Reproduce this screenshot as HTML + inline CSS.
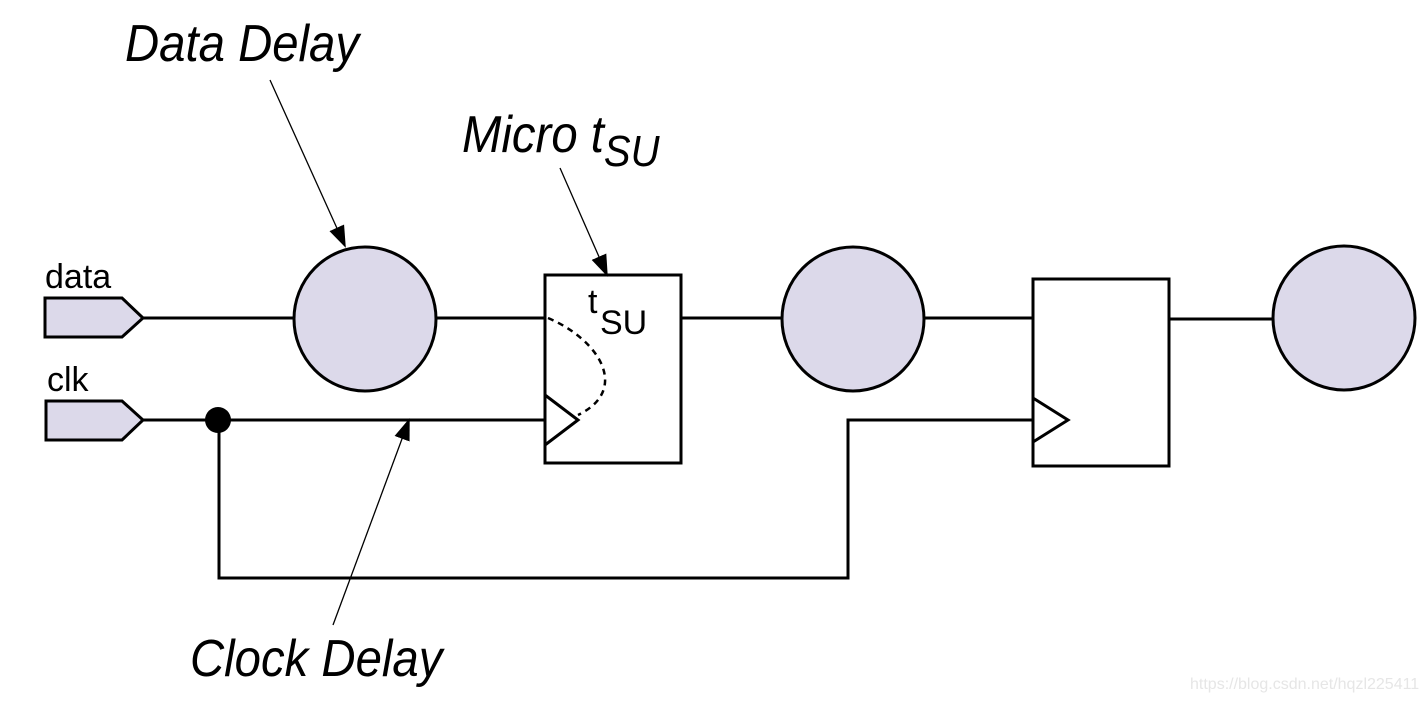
<!DOCTYPE html>
<html><head><meta charset="utf-8"><style>
html,body{margin:0;padding:0;background:#fff;}
svg{display:block;}
.lbl{font-family:"Liberation Sans",sans-serif;font-style:italic;font-size:52px;fill:#000;}
.sm{font-family:"Liberation Sans",sans-serif;font-size:34px;fill:#000;}
</style></head><body>
<svg width="1426" height="701" viewBox="0 0 1426 701" xmlns="http://www.w3.org/2000/svg">
<defs>
<marker id="ahb" markerWidth="22" markerHeight="22" refX="20" refY="11" orient="auto" markerUnits="userSpaceOnUse">
<path d="M0,3 L22,11 L0,19 z" fill="#000"/>
</marker>
</defs>
<g stroke="#000" stroke-width="3" fill="none">
<path d="M45,298 L122,298 L143,318 L122,337 L45,337 Z" fill="#dcd9ea"/>
<path d="M46,401 L122,401 L143,420 L122,440 L46,440 Z" fill="#dcd9ea"/>
<line x1="143" y1="318" x2="294" y2="318"/>
<line x1="437" y1="318" x2="545" y2="318"/>
<line x1="143" y1="420" x2="545" y2="420"/>
<line x1="681" y1="318" x2="782" y2="318"/>
<line x1="925" y1="318" x2="1033" y2="318"/>
<line x1="1169" y1="319" x2="1273" y2="319"/>
<polyline points="219,420 219,578 848,578 848,420 1033,420"/>
<ellipse cx="365" cy="319" rx="71" ry="72" fill="#dcd9ea"/>
<ellipse cx="853" cy="319" rx="71" ry="72" fill="#dcd9ea"/>
<ellipse cx="1344" cy="318" rx="71" ry="72" fill="#dcd9ea"/>
<rect x="545" y="275" width="136" height="188" fill="#fff"/>
<rect x="1033" y="279" width="136" height="187" fill="#fff"/>
<polyline points="545,395 578,420 545,445"/>
<polyline points="1033,398 1068,420 1033,442"/>
<path d="M548,318 C600,340 630,390 578,415" stroke-dasharray="6,5" stroke-width="2.5"/>
</g>
<circle cx="218" cy="420" r="13" fill="#000"/>
<g stroke="#000" stroke-width="1.3" fill="none">
<line x1="270" y1="80" x2="345" y2="246" marker-end="url(#ahb)"/>
<line x1="560" y1="168" x2="607" y2="275" marker-end="url(#ahb)"/>
<line x1="333" y1="625" x2="409" y2="420" marker-end="url(#ahb)"/>
</g>
<text class="lbl" x="125" y="61" transform="translate(125,0) scale(0.91,1) translate(-125,0)">Data Delay</text>
<text class="lbl" x="462" y="152" transform="translate(462,0) scale(0.91,1) translate(-462,0)">Micro t<tspan font-size="44" dy="14">SU</tspan></text>
<text class="lbl" x="190" y="676" transform="translate(190,0) scale(0.91,1) translate(-190,0)">Clock Delay</text>
<text class="sm" x="45" y="288">data</text>
<text class="sm" x="47" y="391">clk</text>
<text class="sm" x="588" y="313" font-size="32">t</text>
<text class="sm" x="600" y="334" font-size="38">SU</text>
<text x="1190" y="689" font-family="Liberation Sans,sans-serif" font-size="16" fill="#e6e6e6">https://blog.csdn.net/hqzl225411</text>
</svg>
</body></html>
